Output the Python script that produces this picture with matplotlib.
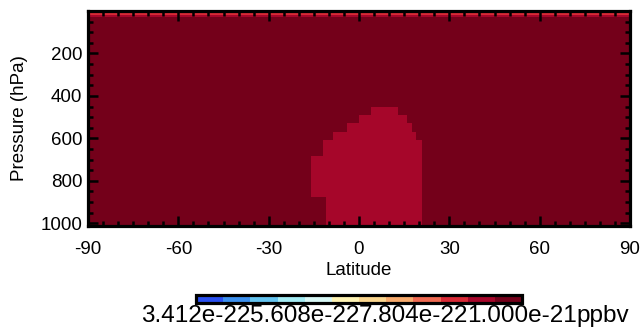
import numpy as np
import matplotlib
matplotlib.use("Agg")
import matplotlib.pyplot as plt
from matplotlib.colors import ListedColormap, BoundaryNorm
from matplotlib.ticker import MultipleLocator

plt.rcParams['font.family'] = ['Liberation Sans', 'DejaVu Sans']

# ---------------- data ----------------
# colour scale (12 classes)
cbar_colors = ['#2a50f0', '#3c90ee', '#64c4f0', '#a4ecf4', '#d8f8f6', '#fff4b4',
               '#fbd68e', '#f7aa6c', '#ef6a52', '#d82a36', '#a6062a', '#74001a']
vmin = 1.216e-22
vmax = 1.000e-21
cbar_labels = ['3.412e-22', '5.608e-22', '7.804e-22', '1.000e-21']
cbar_unit = 'ppbv'

x_ticks = [-90, -60, -30, 0, 30, 60, 90]
y_ticks = [200, 400, 600, 800, 1000]

# background mixing ratio and tropical bump value
background_value = 9.7e-22
bump_value = 9.0e-22

# pressure bands (hPa) of the model levels shown with structure
band_top = [0, 10, 19, 27, 453, 491, 530, 568, 606, 682, 876]
band_bottom = [10, 19, 27, 453, 491, 530, 568, 606, 682, 876, 1013]
# latitude extent of the bump (None = no bump) for each band
bump_lat_lo = [None, None, None, None, 4, 0, -4, -8.5, -12, -16, -11]
bump_lat_hi = [None, None, None, None, 13, 16, 17.5, 19, 21, 21, 21]

# top-level values by latitude segment
top_seg_edges = [-90, -75, -60, -45, -30, -15, 0, 15, 30, 45, 60, 75, 90]
top_seg_values = [3.8e-22, 3.8e-22, 3.8e-22, 4.5e-22, 3.0e-22, 2.3e-22,
                  3.8e-22, 5.2e-22, 7.4e-22, 6.7e-22, 6.0e-22, 6.7e-22]
second_level_value = 8.2e-22
third_level_value = 8.9e-22

# ---------------- build field ----------------
lat_edges = sorted(set([-90.0, 90.0] + [float(v) for v in top_seg_edges]
                       + [float(v) for v in bump_lat_lo if v is not None]
                       + [float(v) for v in bump_lat_hi if v is not None]))
lat_edges = np.array(lat_edges)
lat_mid = 0.5 * (lat_edges[:-1] + lat_edges[1:])
p_edges = np.array(band_top + [band_bottom[-1]], dtype=float)

Z = np.full((len(band_top), len(lat_mid)), background_value)
for i in range(len(band_top)):
    if i == 0:
        for j, lm in enumerate(lat_mid):
            k = np.searchsorted(top_seg_edges, lm) - 1
            Z[i, j] = top_seg_values[k]
    elif i == 1:
        Z[i, :] = second_level_value
    elif i == 2:
        Z[i, :] = third_level_value
    elif bump_lat_lo[i] is not None:
        m = (lat_mid > bump_lat_lo[i]) & (lat_mid < bump_lat_hi[i])
        Z[i, m] = bump_value

cmap = ListedColormap(cbar_colors)
bounds = np.linspace(vmin, vmax, len(cbar_colors) + 1)
norm = BoundaryNorm(bounds, cmap.N)

# ---------------- figure ----------------
W, H = 642, 331
fig = plt.figure(figsize=(W / 100, H / 100), dpi=100)
ax = fig.add_axes([88 / W, 1 - 226 / H, (630 - 88) / W, (226 - 11) / H])
mesh = ax.pcolormesh(lat_edges, p_edges, Z, cmap=cmap, norm=norm, shading='flat')
ax.set_xlim(-90, 90)
ax.set_ylim(1013, 0)
ax.set_xticks(x_ticks)
ax.set_xticklabels([str(v) for v in x_ticks])
ax.set_yticks(y_ticks)
ax.xaxis.set_minor_locator(MultipleLocator(5))
ax.yaxis.set_minor_locator(MultipleLocator(50))
ax.tick_params(which='both', direction='in', top=True, right=True, width=1.8,
               colors='black', labelsize=13.5)
ax.tick_params(which='major', length=7)
ax.tick_params(which='minor', length=3.5)
ax.tick_params(axis='x', pad=10.5)
ax.tick_params(axis='y', pad=4)
for s in ax.spines.values():
    s.set_linewidth(2.3)
ax.set_xlabel('Latitude', fontsize=13.5, labelpad=3)
ax.set_ylabel('Pressure (hPa)', fontsize=13.5, labelpad=9)

cax = fig.add_axes([196 / W, 1 - 303 / H, (522 - 196) / W, 8 / H])
cb = fig.colorbar(mesh, cax=cax, orientation='horizontal')
tick_pos = np.linspace(vmin, vmax, len(cbar_labels))
cb.set_ticks(tick_pos)
cb.set_ticklabels(cbar_labels)
cax.tick_params(length=0, labelsize=17.5, pad=1.5)
cb.outline.set_linewidth(2.3)
cb.minorticks_off()

fig.canvas.draw()
bb = cax.get_xticklabels()[-1].get_window_extent()
fig.text(bb.x1 / W, bb.y1 / H, cbar_unit, ha='left', va='top', fontsize=17.5)

fig.savefig('out.png', dpi=100)
